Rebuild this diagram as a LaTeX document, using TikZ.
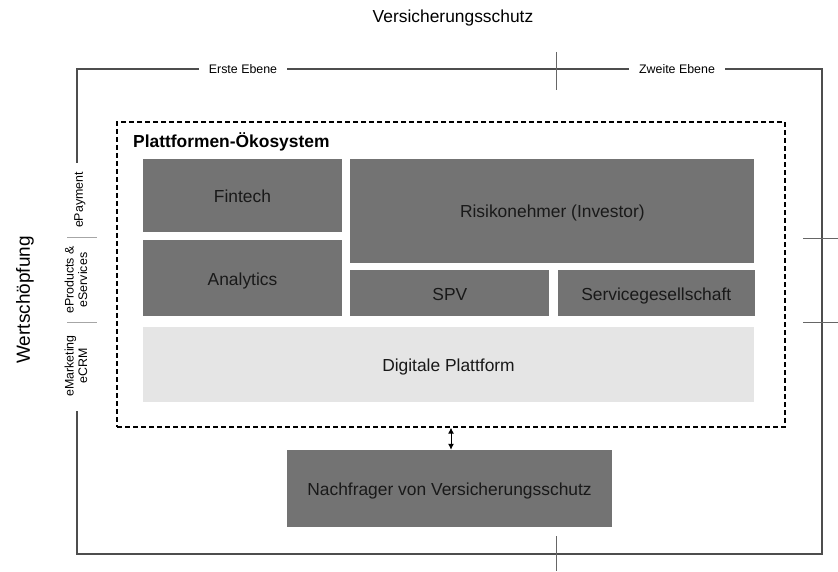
\documentclass[tikz,border=0pt]{standalone}
\usepackage{fontspec}
\setmainfont{Liberation Sans}
\usetikzlibrary{positioning,arrows.meta}
\definecolor{boxgray}{HTML}{737373}
\definecolor{platgray}{HTML}{E5E5E5}
\definecolor{framegray}{HTML}{4D4D4D}
\definecolor{tickgray}{HTML}{666666}

\begin{document}
\begin{tikzpicture}[x=1pt, y=-1pt,
    darkbox/.style={fill=boxgray, text=black!90, inner sep=0pt, text height=13.5pt, text depth=0pt, font=\fontsize{17.4}{20}\selectfont},
    lightbox/.style={darkbox, fill=platgray},
    ebene/.style={fill=white, inner xsep=10pt, inner ysep=2pt, font=\fontsize{12.4}{14}\selectfont},
    sidelabel/.style={rotate=90, align=center, inner sep=0pt, font=\fontsize{12.4}{13.5}\selectfont},
    ticks/.style={draw=tickgray, line width=0.9pt}]
    \useasboundingbox (0,0) rectangle (838,572);

    % outer frame
    \draw[framegray, line width=1.6pt] (77,163) -- (77,69) -- (822,69) -- (822,554) -- (77,554) -- (77,411);
    \node[ebene] (erste) at (243,69) {Erste Ebene};
    \node[ebene] (zweite) at (677,69) {Zweite Ebene};
    \draw[ticks] (556,52) -- (556,90);
    \draw[ticks] (556,536) -- (556,571);
    \draw[ticks] (803,238) -- (838,238);
    \draw[ticks] (803,322) -- (838,322);
    \draw[ticks, draw=black!35] (67,237) -- (97,237);
    \draw[ticks, draw=black!35] (67,322) -- (97,322);

    \node[font=\fontsize{17.4}{20}\selectfont] (schutz) at (453,18) {Versicherungsschutz};
    \node[rotate=90, font=\fontsize{19}{22}\selectfont] (wert) at (25,300) {Wertschöpfung};
    \node[sidelabel] (payment) at (80,200) {ePayment};
    \node[sidelabel] (products) at (76,280) {eProducts \&\\eServices};
    \node[sidelabel] (marketing) at (76,366) {eMarketing\\eCRM};

    % Plattformen-Oekosystem
    \node[draw, dash pattern=on 5pt off 3pt, line width=1.3pt, minimum width=668pt, minimum height=305pt] (oeko) at (451,274.5) {};
    \node[anchor=west, inner sep=0pt, font=\bfseries\fontsize{17.4}{20}\selectfont] (oekotitel) at (133,142) {Plattformen-Ökosystem};

    \node[darkbox, minimum width=199pt, minimum height=73pt] (fintech) at (242.5,195.5) {Fintech};
    \node[darkbox, minimum width=199pt, minimum height=76pt, below=8pt of fintech] (analytics) {Analytics};
    \node[darkbox, minimum width=404pt, minimum height=104pt, anchor=north west] (risiko) at ([xshift=8pt]fintech.north east) {Risikonehmer (Investor)};
    \node[darkbox, minimum width=199pt, minimum height=46pt, anchor=north west] (spv) at ([yshift=-7pt]risiko.south west) {SPV};
    \node[darkbox, minimum width=197pt, minimum height=46pt, right=8pt of spv] (service) {Servicegesellschaft};
    \node[lightbox, minimum width=611pt, minimum height=75pt, anchor=north west] (plattform) at ([yshift=-10pt]analytics.south west) {Digitale Plattform};

    \node[darkbox, minimum width=325pt, minimum height=77pt] (nachfrager) at (449.5,488.5) {Nachfrager von Versicherungsschutz};

    \draw[{Latex[length=6pt,width=6pt]}-{Latex[length=6pt,width=6pt]}, line width=1pt] (oeko.south) -- (oeko.south |- nachfrager.north);
\end{tikzpicture}
\end{document}
